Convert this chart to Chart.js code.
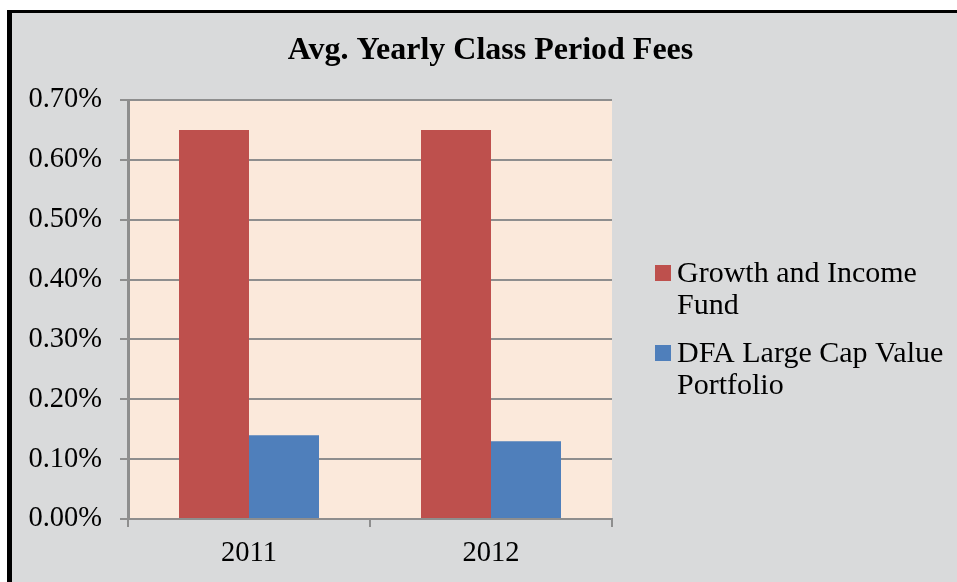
<!DOCTYPE html>
<html>
<head>
<meta charset="utf-8">
<script src="https://cdn.jsdelivr.net/npm/chart.js@4"></script>
<style>
  html, body { margin: 0; padding: 0; background: #fff; overflow: hidden; width: 957px; height: 582px; }
  #marco { position: absolute; left: 7px; top: 10px; width: 1000px; height: 640px; background: #d9dadb;
           border-left: 5px solid #000; border-top: 3px solid #000; }
  #lienzo { position: absolute; left: 12px; top: 13px; }
</style>
</head>
<body>
<div id="marco"></div>
<canvas id="lienzo" width="957" height="569"></canvas>
<script>
// Datos del gráfico
const categorias = ['2011', '2012'];
const series = ['Growth and Income Fund', 'DFA Large Cap Value Portfolio'];
const valoresFondo = [0.65, 0.65];      // %
const valoresDFA = [0.14, 0.13];        // %
const colores = ['#be504d', '#4f7fbb'];
const ticksY = [0, 0.1, 0.2, 0.3, 0.4, 0.5, 0.6, 0.7];

const fuente = '"Liberation Serif", "Times New Roman", serif';
const gris = '#8e8e8e';

// Fondo del área de trazado
const fondoArea = {
  id: 'fondoArea',
  beforeDraw(chart) {
    const { ctx, chartArea: a } = chart;
    ctx.save();
    ctx.fillStyle = '#fbe9db';
    ctx.fillRect(a.left, a.top, a.right - a.left, a.bottom - a.top);
    ctx.restore();
  }
};

// Leyenda a la derecha con texto en varias líneas
const leyenda = {
  id: 'leyenda',
  afterDraw(chart) {
    const { ctx, chartArea: a } = chart;
    const x = a.right + 43;
    let y = 269;
    const alto = 32;
    ctx.save();
    ctx.font = '30px ' + fuente;
    ctx.textBaseline = 'alphabetic';
    chart.data.datasets.forEach((ds, i) => {
      // partir el texto según el ancho disponible
      const palabras = ds.label.split(' ');
      const lineas = [];
      let actual = '';
      palabras.forEach(p => {
        const prueba = actual ? actual + ' ' + p : p;
        if (ctx.measureText(prueba).width > 280 && actual) {
          lineas.push(actual);
          actual = p;
        } else {
          actual = prueba;
        }
      });
      lineas.push(actual);

      ctx.fillStyle = ds.backgroundColor;
      ctx.fillRect(x, y - 17, 16, 16);
      ctx.fillStyle = '#000';
      lineas.forEach((l, j) => ctx.fillText(l, x + 22, y + j * alto));
      y += lineas.length * alto + 16;
    });
    ctx.restore();
  }
};

new Chart(document.getElementById('lienzo'), {
  type: 'bar',
  data: {
    labels: categorias,
    datasets: [
      { label: series[0], data: valoresFondo, backgroundColor: colores[0] },
      { label: series[1], data: valoresDFA, backgroundColor: colores[1] }
    ]
  },
  options: {
    responsive: false,
    animation: false,
    layout: { padding: 0 },
    datasets: { bar: { categoryPercentage: 0.5785, barPercentage: 1 } },
    plugins: {
      legend: { display: false },
      tooltip: { enabled: false },
      title: {
        display: true,
        text: 'Avg. Yearly Class Period Fees',
        color: '#000',
        font: { family: fuente, size: 32, weight: 'bold' },
        padding: { top: 19, bottom: 29.6 }
      }
    },
    scales: {
      x: {
        grid: { offset: true, drawOnChartArea: false, drawTicks: true, tickLength: 8, color: gris, lineWidth: 2 },
        border: { display: true, color: gris, width: 2 },
        ticks: { color: '#000', padding: 9, font: { family: fuente, size: 28.5 } },
        afterFit(s) { s.height = 63; }
      },
      y: {
        min: 0,
        max: 0.7,
        afterBuildTicks(s) { s.ticks = ticksY.map(v => ({ value: v })); },
        grid: { color: gris, lineWidth: 2, tickLength: 8 },
        border: { display: true, color: gris, width: 3 },
        ticks: {
          color: '#000',
          padding: 18,
          font: { family: fuente, size: 28.5 },
          callback: v => v.toFixed(2) + '%'
        },
        afterFit(s) { s.width = 116; }
      },
      reserva: {
        position: 'right',
        display: true,
        grid: { display: false, drawTicks: false },
        border: { display: false },
        ticks: { display: false },
        afterFit(s) { s.width = 357; }
      }
    }
  },
  plugins: [fondoArea, leyenda]
});
</script>
</body>
</html>
